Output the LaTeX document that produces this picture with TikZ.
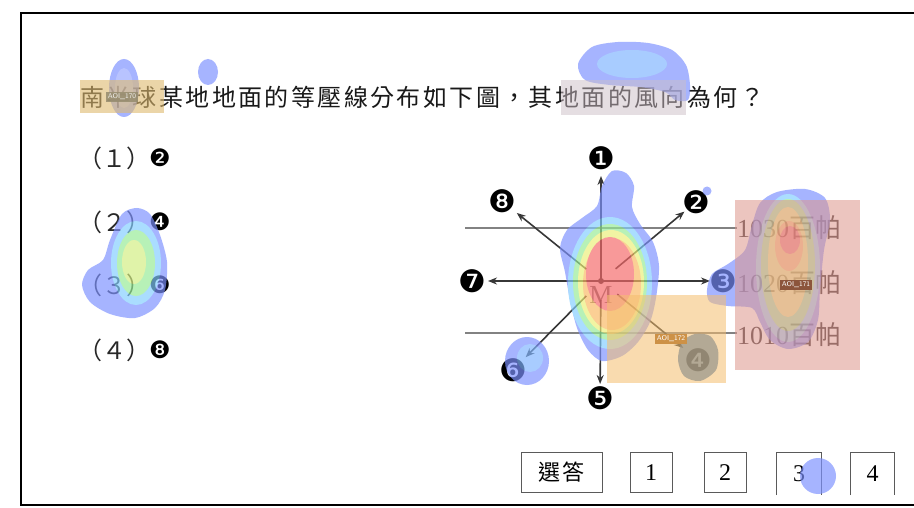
\documentclass[tikz,border=0pt]{standalone}
\usepackage{fontspec}
\setmainfont{Liberation Serif}
\newfontfamily\cjk{Noto Sans CJK TC}
\newfontfamily\cjkt[LetterSpace=10]{Noto Sans CJK TC}
\newfontfamily\dvs{DejaVu Sans}
\usetikzlibrary{arrows.meta}
\definecolor{arrowc}{RGB}{55,55,55}
\definecolor{isoc}{RGB}{130,130,130}
\definecolor{optc}{RGB}{40,40,40}
\definecolor{plc}{RGB}{70,60,60}
\definecolor{btnc}{RGB}{90,90,90}
\definecolor{hblue}{RGB}{125,145,255}
\definecolor{hcyan}{RGB}{130,205,255}
\definecolor{hgreen}{RGB}{150,235,150}
\definecolor{hyellow}{RGB}{235,240,120}
\definecolor{horange}{RGB}{250,185,100}
\definecolor{hred}{RGB}{245,105,105}
\definecolor{hgray}{RGB}{150,148,138}
\definecolor{aoipink}{RGB}{222,150,140}
\definecolor{aoiorange}{RGB}{245,190,110}
\definecolor{aoitan}{RGB}{222,185,110}
\definecolor{aoigray}{RGB}{205,190,198}
\definecolor{lab171}{RGB}{140,85,60}
\definecolor{lab172}{RGB}{205,145,70}
\definecolor{labtitle}{RGB}{150,140,110}
\tikzset{
  arr/.style={draw=arrowc, line width=1.6pt, -{Stealth[length=9pt,width=7pt]}},
  isobar/.style={draw=isoc, line width=1.8pt},
  cnum/.style={inner sep=0pt, font=\dvs\fontsize{31}{31}\selectfont},
  onum/.style={inner sep=0pt, font=\dvs\fontsize{24}{24}\selectfont},
  opt/.style={anchor=west, inner sep=0pt, font=\cjk\fontsize{24}{24}\selectfont, text=optc},
  plabel/.style={anchor=west, inner sep=0pt, text=plc, font=\fontsize{26}{26}\selectfont},
  btn/.style={draw=btnc, line width=1pt, minimum height=40pt, inner sep=0pt},
  obtn/.style={minimum height=42pt, inner sep=0pt},
  aoilab/.style={inner sep=1.5pt, font=\sffamily\fontsize{7}{7}\selectfont, text=white},
}
\begin{document}
\begin{tikzpicture}[x=1pt,y=-1pt]
\useasboundingbox (0,0) rectangle (914,508);
\fill[white] (0,0) rectangle (914,508);
\draw[line width=2.5pt] (914,13) -- (21,13) -- (21,505) -- (914,505);

% title and options
\node[anchor=west, inner sep=0pt, font=\cjkt\fontsize{24}{24}\selectfont, text=black!90] (title) at (80,97) {南半球某地地面的等壓線分布如下圖，其地面的風向為何？};
\node[opt] (o1) at (78,158) {（１）};
\node[onum] (o1n) at (160,158) {❷};
\node[opt] (o2) at (78,222) {（２）};
\node[onum] (o2n) at (160,222) {❹};
\node[opt] (o3) at (78,285) {（３）};
\node[onum] (o3n) at (160,285) {❻};
\node[opt] (o4) at (78,350) {（４）};
\node[onum] (o4n) at (160,350) {❽};

% isobars and labels
\node[plabel] (p1030) at (737,228) {1030{\cjk 百帕}};
\node[plabel] (p1020) at (737,283) {1020{\cjk 百帕}};
\node[plabel] (p1010) at (737,335) {1010{\cjk 百帕}};
\coordinate (i1) at (465,228);
\coordinate (i3) at (465,333);
\draw[isobar] (i1) -- (p1030.west |- i1);
\draw[isobar] (i3) -- (p1010.west |- i3);

% wind arrows
\coordinate (c) at (601,281);
\node[cnum] (n1) at (601,158) {❶};
\node[cnum] (n2) at (696,202) {❷};
\node[cnum] (n3) at (723,281) {❸};
\node[cnum] (n4) at (698,360) {❹};
\node[cnum] (n5) at (600,398) {❺};
\node[cnum] (n6) at (513,370) {❻};
\node[cnum] (n7) at (472,281) {❼};
\node[cnum] (n8) at (502,201) {❽};
\node[inner sep=0pt, font=\fontsize{26}{26}\selectfont, text=black!55] (m) at (601,295) {M};
\fill[arrowc] (c) circle (3pt);
\draw[arr, shorten >=18pt] (c) -- (n1.center);
\draw[arr, shorten <=19pt, shorten >=15pt] (c) -- (n2.center);
\draw[arr, shorten >=13pt] (c) -- (n3.center);
\draw[arr, shorten <=21pt, shorten >=19pt] (c) -- (n4.center);
\draw[arr, shorten <=19pt, shorten >=14pt] (c) -- (n5.center);
\draw[arr, shorten <=21pt, shorten >=18pt] (c) -- (n6.center);
\draw[arr, shorten >=16pt] (c) -- (n7.center);
\draw[arr, shorten <=19pt, shorten >=19pt] (c) -- (n8.center);

% buttons
\node[btn, minimum width=81pt, font=\cjkt\fontsize{22}{22}\selectfont] (b0) at (561.5,472.5) {選答};
\node[btn, minimum width=42pt, font=\fontsize{24}{24}\selectfont] (b1) at (651,472.5) {1};
\node[btn, minimum width=42pt, font=\fontsize{24}{24}\selectfont] (b2) at (725,472.5) {2};
\node[obtn, minimum width=44pt, font=\fontsize{24}{24}\selectfont] (b3) at (799,474) {3};
\node[obtn, minimum width=43pt, font=\fontsize{24}{24}\selectfont] (b4) at (872.5,474) {4};
\draw[btnc, line width=1pt] (b3.south west) -- (b3.north west) -- (b3.north east) -- (b3.south east);
\draw[btnc, line width=1pt] (b4.south west) -- (b4.north west) -- (b4.north east) -- (b4.south east);

% heat map
\begin{scope}[transparency group, opacity=0.68]
  % main blob
  \fill[hblue] plot[smooth cycle] coordinates {(612,171) (626,173) (634,186) (632,207) (640,224) (653,242) (659,266) (656,298) (650,322) (638,342) (622,356) (602,361) (588,350) (577,328) (570,300) (565,272) (560,248) (567,230) (582,218) (597,206) (602,186)};
  \fill[hcyan] (610,283) ellipse [x radius=42, y radius=66];
  \fill[hgreen] (610,282) ellipse [x radius=37, y radius=58];
  \fill[hyellow] (611,282) ellipse [x radius=33, y radius=52];
  \fill[horange] (612,284) ellipse [x radius=29, y radius=46];
  \fill[hred] (610,274) ellipse [x radius=24, y radius=37];
  % right blob
  \fill[hblue] plot[smooth cycle] coordinates {(707,290) (712,274) (728,264) (745,250) (752,225) (760,203) (777,192) (805,189) (825,198) (830,220) (824,250) (820,290) (818,320) (808,342) (788,349) (770,340) (760,322) (752,308) (728,306) (710,302)};
  \fill[hcyan] (788,268) ellipse [x radius=32, y radius=74];
  \fill[hgreen] (788,265) ellipse [x radius=27, y radius=66];
  \fill[hyellow] (788,262) ellipse [x radius=20, y radius=55];
  \fill[horange] (789,246) ellipse [x radius=14, y radius=25];
  \fill[hred] (790,240) ellipse [x radius=10, y radius=14];
  % option (3) blob
  \fill[hblue] plot[smooth cycle] coordinates {(137,208) (150,214) (160,235) (167,262) (165,290) (155,308) (135,318) (110,314) (90,302) (82,285) (88,270) (103,260) (110,240) (122,214)};
  \fill[hcyan] (136,263) ellipse [x radius=25, y radius=42];
  \fill[hgreen] (136,263) ellipse [x radius=19, y radius=33];
  \fill[hyellow!70!hgreen] (134,262) ellipse [x radius=12, y radius=22];
  % title blobs
  \fill[hblue] (124,88) ellipse [x radius=15, y radius=29];
  \fill[hblue!80!white] (124,88) ellipse [x radius=9, y radius=20];
  \fill[hblue] (208,72) ellipse [x radius=10, y radius=13];
  \fill[hblue] plot[smooth cycle] coordinates {(578,64) (592,47) (618,42) (648,43) (672,50) (686,65) (690,85) (688,100) (675,100) (665,92) (640,87) (610,85) (585,80)};
  \fill[hcyan!60!hblue] (632,64) ellipse [x radius=35, y radius=14];
  % small blobs
  \fill[hblue] (707,191) circle (4.5);
  \fill[hblue] (527,361) ellipse [x radius=22, y radius=24];
  \fill[hcyan!60!hblue] (530,358) ellipse [x radius=13, y radius=14];
  \fill[hblue] (818,476) circle (18);
\end{scope}

% AOI boxes
\fill[aoipink, opacity=0.55] (735,200) rectangle (860,370);
\fill[aoiorange, opacity=0.55] (607,295) rectangle (726,383);
\fill[aoitan, opacity=0.6] (80,80) rectangle (164,113);
\fill[aoigray, opacity=0.5] (561,80) rectangle (686,115);
\fill[hgray, opacity=0.7] plot[smooth cycle] coordinates {(695,334) (710,336) (718,350) (716,370) (700,381) (684,376) (678,360) (682,342)};

% AOI labels
\node[aoilab, fill=lab171] (a171) at (796,285) {AOI\_171};
\node[aoilab, fill=lab172] (a172) at (671,339) {AOI\_172};
\node[aoilab, fill=labtitle, opacity=0.85] (a170) at (122,97) {AOI\_170};
\end{tikzpicture}
\end{document}
